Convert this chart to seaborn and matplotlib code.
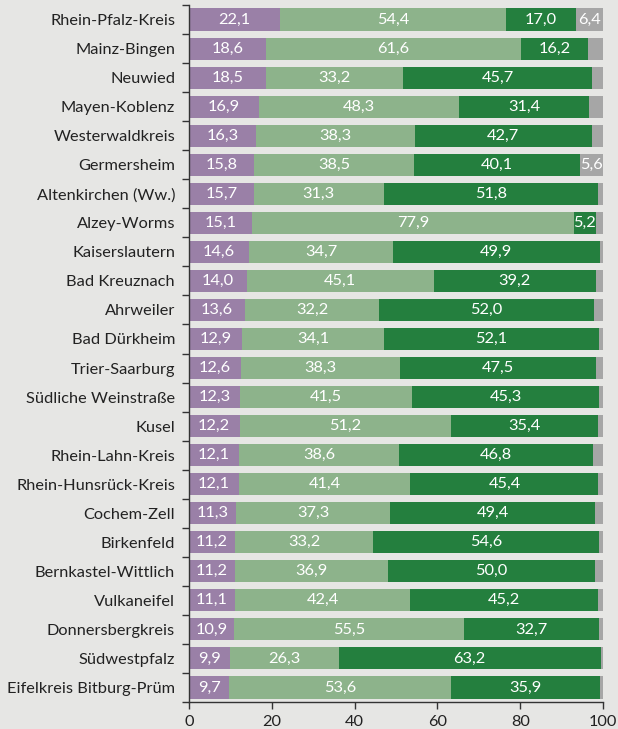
import matplotlib
matplotlib.use("Agg")
import matplotlib.pyplot as plt
import seaborn as sns
import numpy as np
import pandas as pd
from matplotlib.ticker import FixedLocator

districts = ["Rhein-Pfalz-Kreis", "Mainz-Bingen", "Neuwied", "Mayen-Koblenz",
             "Westerwaldkreis", "Germersheim", "Altenkirchen (Ww.)", "Alzey-Worms",
             "Kaiserslautern", "Bad Kreuznach", "Ahrweiler", "Bad Dürkheim",
             "Trier-Saarburg", "Südliche Weinstraße", "Kusel", "Rhein-Lahn-Kreis",
             "Rhein-Hunsrück-Kreis", "Cochem-Zell", "Birkenfeld", "Bernkastel-Wittlich",
             "Vulkaneifel", "Donnersbergkreis", "Südwestpfalz", "Eifelkreis Bitburg-Prüm"]
purple_vals = [22.1, 18.6, 18.5, 16.9, 16.3, 15.8, 15.7, 15.1, 14.6, 14.0, 13.6, 12.9,
               12.6, 12.3, 12.2, 12.1, 12.1, 11.3, 11.2, 11.2, 11.1, 10.9, 9.9, 9.7]
light_vals = [54.4, 61.6, 33.2, 48.3, 38.3, 38.5, 31.3, 77.9, 34.7, 45.1, 32.2, 34.1,
              38.3, 41.5, 51.2, 38.6, 41.4, 37.3, 33.2, 36.9, 42.4, 55.5, 26.3, 53.6]
dark_vals = [17.0, 16.2, 45.7, 31.4, 42.7, 40.1, 51.8, 5.2, 49.9, 39.2, 52.0, 52.1,
             47.5, 45.3, 35.4, 46.8, 45.4, 49.4, 54.6, 50.0, 45.2, 32.7, 63.2, 35.9]
gray_vals = [6.4, 3.6, 2.6, 3.4, 2.7, 5.6, 1.2, 1.8, 0.8, 1.7, 2.2, 0.9,
             1.6, 0.9, 1.2, 2.5, 1.1, 2.0, 1.0, 1.9, 1.3, 0.9, 0.6, 0.8]
x_ticks = [0, 20, 40, 60, 80, 100]

colors = ["#9a80a7", "#8db38b", "#247f3e", "#a6a6a6"]
bg = "#e6e6e4"

sns.set_theme(style="white")
plt.rcParams["font.family"] = ["Lato", "DejaVu Sans"]

df = pd.DataFrame({"district": districts, "p": purple_vals, "l": light_vals,
                   "d": dark_vals, "g": gray_vals})
series = ["p", "l", "d", "g"]
cum = df[series].cumsum(axis=1)

fig = plt.figure(figsize=(6.18, 7.29), dpi=100, facecolor=bg)
ax = fig.add_axes([189/618, 1 - 702/729, (603 - 189)/618, (702 - 5)/729])
ax.set_facecolor(bg)

for s, c in reversed(list(zip(series, colors))):
    sns.barplot(x=cum[s], y=df["district"], orient="h", color=c, width=0.76,
                saturation=1, ax=ax, linewidth=0)

for i, row in df.iterrows():
    left = 0
    for s in series:
        v = row[s]
        if v >= 5:
            ax.text(left + v/2, i, f"{v:.1f}".replace(".", ","), ha="center",
                    va="center", color="white", fontsize=11.8)
        left += v

ax.set_xlim(0, 100)
ax.set_ylim(len(districts) - 0.5, -0.5)
ax.set_xticks(x_ticks)
ax.set_xticklabels([str(t) for t in x_ticks], fontsize=11.8, color="#222222")
ax.set_xlabel("")
ax.set_ylabel("")
ax.tick_params(axis="y", which="major", length=0, labelsize=11.8, labelcolor="#222222", pad=10)
ax.yaxis.set_minor_locator(FixedLocator(np.arange(-0.5, len(districts), 1)))
ax.tick_params(axis="y", which="minor", length=5, width=1, color="#333333", left=True)
ax.tick_params(axis="x", which="major", length=5, width=1, color="#333333", bottom=True, pad=4)
for sp in ["top", "right"]:
    ax.spines[sp].set_visible(False)
for sp in ["left", "bottom"]:
    ax.spines[sp].set_color("#333333")
    ax.spines[sp].set_linewidth(1)

fig.savefig("out.png", dpi=100, facecolor=bg)
